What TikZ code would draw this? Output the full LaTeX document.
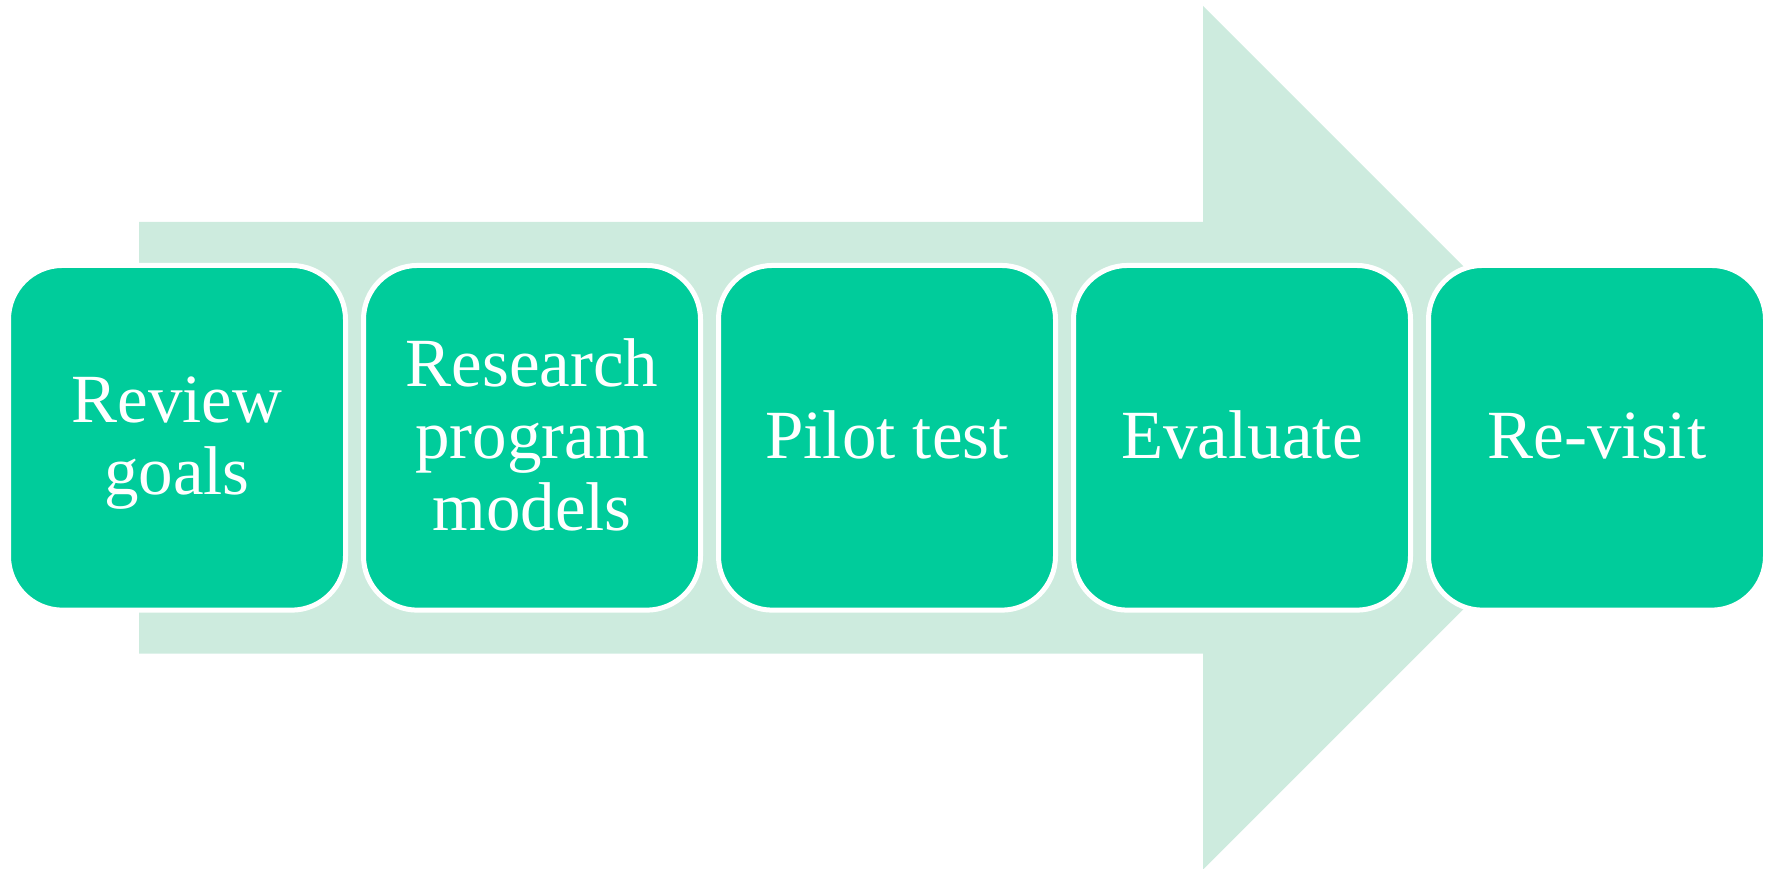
\documentclass[tikz,border=0pt]{standalone}
\usepackage{fontspec}
\setmainfont{Liberation Serif}
\definecolor{arrowtint}{RGB}{205,235,222}
\definecolor{boxgreen}{RGB}{0,204,155}
% uniform line strut: 57pt above the baseline, 15pt below
\newcommand{\lnstrut}{\rule[-15pt]{0pt}{72pt}}
\begin{document}
\begin{tikzpicture}[x=1pt,y=-1pt,
  stepbox/.style={rectangle, rounded corners=54pt, fill=boxgreen, draw=white,
    line width=5pt, minimum width=337pt, minimum height=344.7pt, inner sep=0pt,
    align=center, text=white, font=\fontsize{69}{72}\selectfont}]
  \useasboundingbox (0,0) rectangle (1769,869);
  % broad background arrow
  \begin{scope}
    \clip (0,0) rectangle (1769,869);
    \fill[arrowtint] (139,222) -- (1203,222) -- (1203,6) -- (1635,437.8)
      -- (1203,869.6) -- (1203,653.7) -- (139,653.7) -- cycle;
  \end{scope}
  % process steps
  \node[stepbox] (s1) at (177,437.8) {\lnstrut Review\\\lnstrut goals};
  \node[stepbox] (s2) at (532,437.8) {\lnstrut Research\\\lnstrut program\\\lnstrut models};
  \node[stepbox] (s3) at (887,437.8) {\lnstrut Pilot test};
  \node[stepbox] (s4) at (1242,437.8) {\lnstrut Evaluate};
  \node[stepbox] (s5) at (1597,437.8) {\lnstrut Re-visit};
\end{tikzpicture}
\end{document}
